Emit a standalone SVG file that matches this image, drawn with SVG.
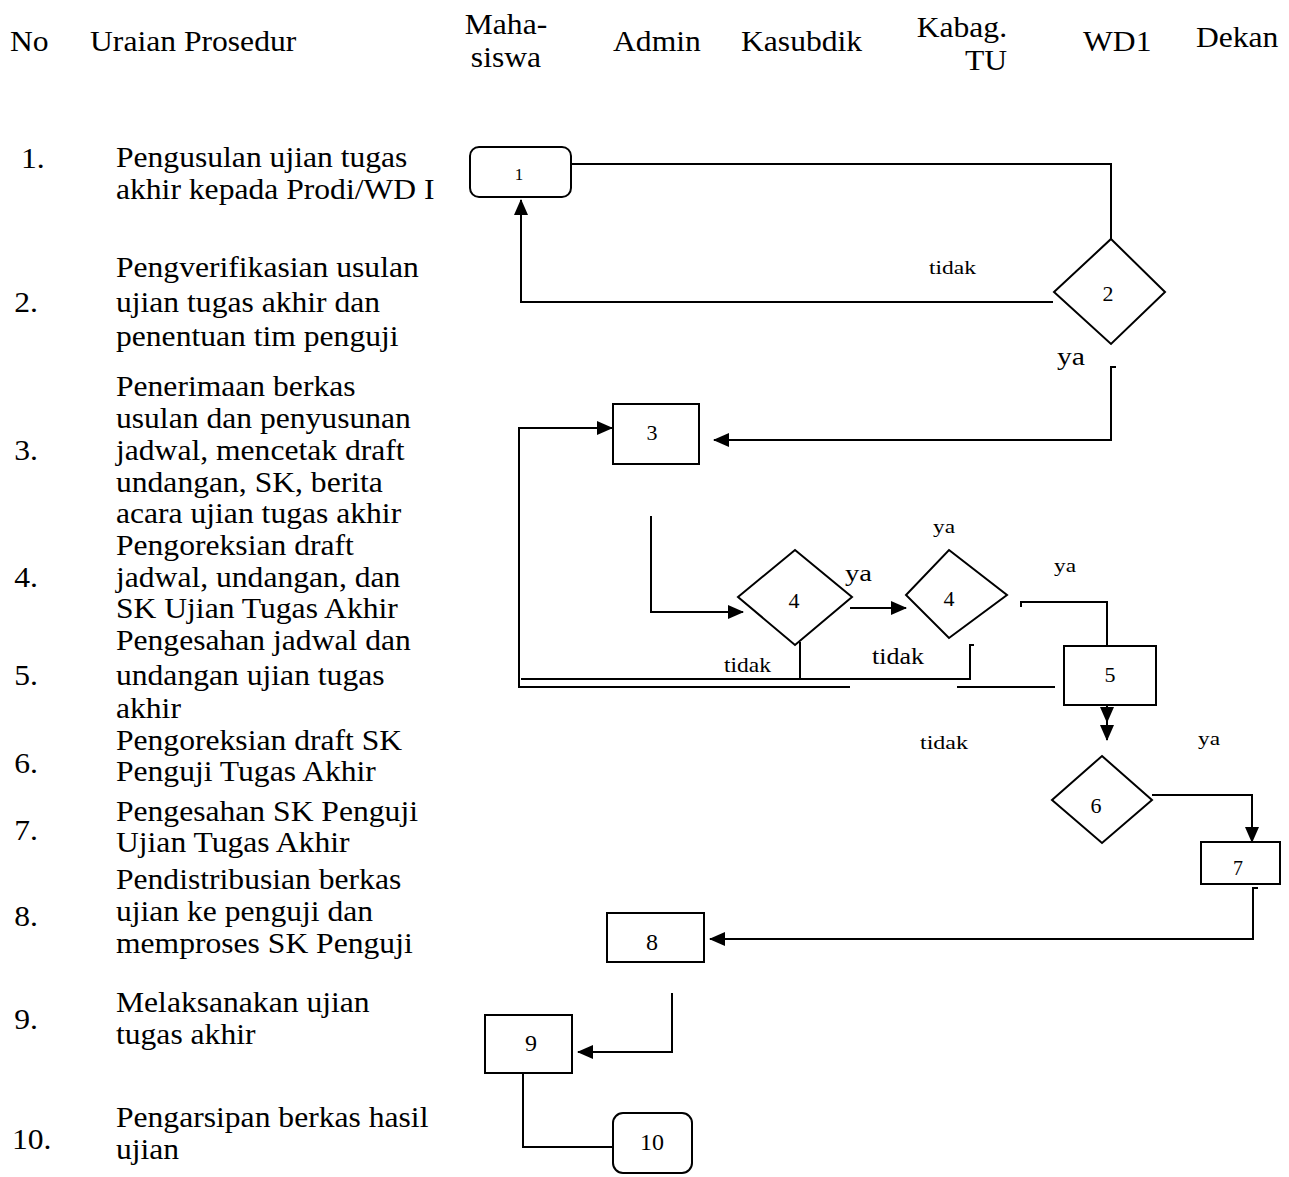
<svg xmlns="http://www.w3.org/2000/svg" width="1289" height="1177" viewBox="0 0 1289 1177">
<style>
text{font-family:"Liberation Serif","Times New Roman",serif;fill:#000}
.t{font-size:29px}
.lbl{font-size:22px;text-anchor:middle}
.sm{font-size:19px}
.node{fill:#fff;stroke:#000;stroke-width:2}
.c{fill:none;stroke:#000;stroke-width:2}
</style>
<defs>
<marker id="ah" markerUnits="userSpaceOnUse" markerWidth="16" markerHeight="14" refX="15" refY="7" orient="auto">
<path d="M0,0 L16,7 L0,14 z" fill="#000"/>
</marker>
</defs>
<g id="header" class="t" transform="scale(1.09 1)">
<text x="9.2" y="51">No</text>
<text x="82.6" y="51">Uraian Prosedur</text>
<text x="464.2" y="34" text-anchor="middle">Maha-</text>
<text x="464.2" y="67" text-anchor="middle">siswa</text>
<text x="562.4" y="51">Admin</text>
<text x="679.8" y="51">Kasubdik</text>
<text x="923.9" y="37" text-anchor="end">Kabag.</text>
<text x="923.9" y="70" text-anchor="end">TU</text>
<text x="993.6" y="51">WD1</text>
<text x="1097.2" y="47">Dekan</text>
</g>
<g id="procedures" class="t" transform="scale(1.09 1)">
<text x="19.3" y="168">1.</text>
<text x="106.4" y="167">Pengusulan ujian tugas</text>
<text x="106.4" y="199">akhir kepada Prodi/WD I</text>
<text x="13" y="312">2.</text>
<text x="106.4" y="277">Pengverifikasian usulan</text>
<text x="106.4" y="312">ujian tugas akhir dan</text>
<text x="106.4" y="346">penentuan tim penguji</text>
<text x="13" y="460">3.</text>
<text x="106.4" y="396">Penerimaan berkas</text>
<text x="106.4" y="428">usulan dan penyusunan</text>
<text x="106.4" y="460">jadwal, mencetak draft</text>
<text x="106.4" y="492">undangan, SK, berita</text>
<text x="106.4" y="523">acara ujian tugas akhir</text>
<text x="13" y="587">4.</text>
<text x="106.4" y="555">Pengoreksian draft</text>
<text x="106.4" y="587">jadwal, undangan, dan</text>
<text x="106.4" y="618">SK Ujian Tugas Akhir</text>
<text x="13" y="685">5.</text>
<text x="106.4" y="650">Pengesahan jadwal dan</text>
<text x="106.4" y="685">undangan ujian tugas</text>
<text x="106.4" y="718">akhir</text>
<text x="13" y="773">6.</text>
<text x="106.4" y="750">Pengoreksian draft SK</text>
<text x="106.4" y="781">Penguji Tugas Akhir</text>
<text x="13" y="840">7.</text>
<text x="106.4" y="821">Pengesahan SK Penguji</text>
<text x="106.4" y="852">Ujian Tugas Akhir</text>
<text x="13" y="926">8.</text>
<text x="106.4" y="889">Pendistribusian berkas</text>
<text x="106.4" y="921">ujian ke penguji dan</text>
<text x="106.4" y="953">memproses SK Penguji</text>
<text x="13" y="1029">9.</text>
<text x="106.4" y="1012">Melaksanakan ujian</text>
<text x="106.4" y="1044">tugas akhir</text>
<text x="11" y="1149">10.</text>
<text x="106.4" y="1127">Pengarsipan berkas hasil</text>
<text x="106.4" y="1159">ujian</text>
</g>
<g id="connectors">
<path class="c" d="M564,164 H1111 V240"/>
<path class="c" d="M1053,302 H521 V200" marker-end="url(#ah)"/>
<path class="c" d="M1116,367 H1111 V440 H714" marker-end="url(#ah)"/>
<path class="c" d="M850,687 H519 V428 H612" marker-end="url(#ah)"/>
<path class="c" d="M521,679 H970 V645 H974"/>
<path class="c" d="M800,642 V679"/>
<path class="c" d="M957,687 H1055"/>
<path class="c" d="M651,516 V612 H743" marker-end="url(#ah)"/>
<path class="c" d="M850,608 H906" marker-end="url(#ah)"/>
<path class="c" d="M1021,607 V602 H1107 V646"/>
<path class="c" d="M1107,705 V722" marker-end="url(#ah)"/>
<path class="c" d="M1107,705 V740" marker-end="url(#ah)"/>
<path class="c" d="M1152,795 H1252 V842" marker-end="url(#ah)"/>
<path class="c" d="M1258,888 H1253 V939 H710" marker-end="url(#ah)"/>
<path class="c" d="M672,993 V1052 H578" marker-end="url(#ah)"/>
<path class="c" d="M523,1073 V1147 H613"/>
<text class="sm" x="929" y="274" textLength="47" lengthAdjust="spacingAndGlyphs">tidak</text>
<text x="1057" y="365" style="font-size:26px" textLength="28" lengthAdjust="spacingAndGlyphs">ya</text>
<text class="sm" x="933" y="533" textLength="22" lengthAdjust="spacingAndGlyphs">ya</text>
<text x="845" y="581" style="font-size:23px" textLength="27" lengthAdjust="spacingAndGlyphs">ya</text>
<text class="sm" x="1054" y="572" textLength="22" lengthAdjust="spacingAndGlyphs">ya</text>
<text x="724" y="672" style="font-size:22px" textLength="47" lengthAdjust="spacingAndGlyphs">tidak</text>
<text x="872" y="664" style="font-size:24px" textLength="52" lengthAdjust="spacingAndGlyphs">tidak</text>
<text class="sm" x="920" y="749" textLength="48" lengthAdjust="spacingAndGlyphs">tidak</text>
<text class="sm" x="1198" y="745" textLength="22" lengthAdjust="spacingAndGlyphs">ya</text>
</g>
<g id="n1"><rect class="node" x="470" y="147" width="101" height="50" rx="9"/><text class="lbl" x="519" y="180" style="font-size:17px">1</text></g>
<g id="n2"><polygon class="node" points="1111,239 1165,292 1111,344 1054,292"/><text class="lbl" x="1108" y="301">2</text></g>
<g id="n3"><rect class="node" x="613" y="404" width="86" height="60"/><text class="lbl" x="652" y="440">3</text></g>
<g id="n4a"><polygon class="node" points="795,550 852,597 795,645 738,597"/><text class="lbl" x="794" y="608">4</text></g>
<g id="n4b"><polygon class="node" points="949,550 1007,595 949,638 906,595"/><text class="lbl" x="949" y="606">4</text></g>
<g id="n5"><rect class="node" x="1064" y="646" width="92" height="59"/><text class="lbl" x="1110" y="682">5</text></g>
<g id="n6"><polygon class="node" points="1102,756 1152,800 1102,843 1052,800"/><text class="lbl" x="1096" y="813">6</text></g>
<g id="n7"><rect class="node" x="1201" y="842" width="79" height="42"/><text class="lbl" x="1238" y="875" style="font-size:20px">7</text></g>
<g id="n8"><rect class="node" x="607" y="913" width="97" height="49"/><text class="lbl" x="652" y="950" style="font-size:24px">8</text></g>
<g id="n9"><rect class="node" x="485" y="1015" width="87" height="58"/><text class="lbl" x="531" y="1051" style="font-size:24px">9</text></g>
<g id="n10"><rect class="node" x="613" y="1113" width="79" height="60" rx="10"/><text class="lbl" x="652" y="1150" style="font-size:24px">10</text></g>
</svg>
